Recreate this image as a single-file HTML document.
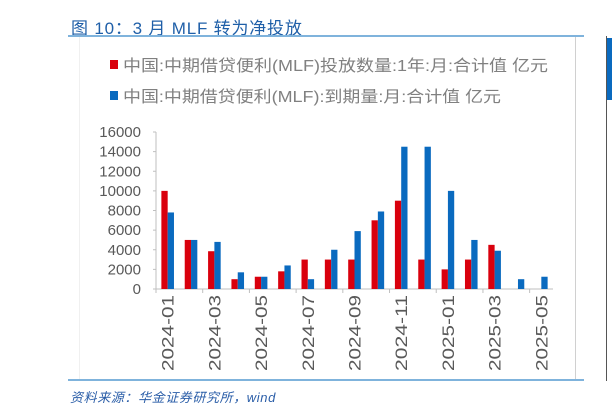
<!DOCTYPE html>
<html><head><meta charset="utf-8"><style>
body{margin:0;width:612px;height:417px;background:#fff;overflow:hidden;position:relative;font-family:"Liberation Sans","Noto Sans CJK SC",sans-serif}
.abs{position:absolute}
</style></head><body>
<div class="abs" style="left:71px;top:14px;font-size:17px;letter-spacing:0.8px;color:#1f5fa8;white-space:nowrap">图 10：3 月 MLF 转为净投放</div>
<div class="abs" style="left:68px;top:35px;width:516px;height:2px;background:#7fb3dc"></div>
<div class="abs" style="left:79px;top:37px;width:1px;height:343px;background:#f0f0f0"></div>
<div class="abs" style="left:575px;top:37px;width:1px;height:343px;background:#d0d0d0"></div>
<div class="abs" style="left:68px;top:379px;width:516px;height:2px;background:#7fb3dc"></div>
<div class="abs" style="left:70px;top:387px;font-size:13px;letter-spacing:0.6px;font-style:italic;color:#2b5ea8;white-space:nowrap">资料来源：华金证券研究所，wind</div>
<div class="abs" style="left:606px;top:36px;width:1px;height:345px;background:#555"></div>
<div class="abs" style="left:607px;top:38px;width:5px;height:62px;background:#0a6abf"></div>
<svg class="abs" style="left:0;top:0" width="612" height="417">
<g id="legend"></g><g id="axes"></g><g id="bars"></g>
</svg>
<script>
const categories=["2024-01","2024-02","2024-03","2024-04","2024-05","2024-06","2024-07","2024-08","2024-09","2024-10","2024-11","2024-12","2025-01","2025-02","2025-03","2025-04","2025-05"];
const issued=[10000,5000,3850,1000,1250,1800,3000,3000,3000,7000,9000,3000,2000,3000,4500,0,0];
const matured=[7800,5000,4800,1700,1250,2400,1000,4000,5900,7900,14500,14500,10000,5000,3900,1000,1250];
const yTicks=[0,2000,4000,6000,8000,10000,12000,14000,16000];
const seriesNames=["中国:中期借贷便利(MLF)投放数量:1年:月:合计值 亿元","中国:中期借贷便利(MLF):到期量:月:合计值 亿元"];
const colors=["#d9000d","#0a6abf"];
const NS="http://www.w3.org/2000/svg";
const x0=156,x1=553,y0=289,yTop=132,yMax=16000;
const cw=(x1-x0)/categories.length;
const ys=v=>y0-(v/yMax)*(y0-yTop);
const legendLens=[425,378];
function mk(t,a,p){const e=document.createElementNS(NS,t);for(const k in a)e.setAttribute(k,a[k]);p.appendChild(e);return e;}
const lg=document.getElementById('legend'),ax=document.getElementById('axes'),bg=document.getElementById('bars');
seriesNames.forEach((n,i)=>{
 const r=mk('rect',{x:110,y:60+i*31,width:8,height:9,fill:colors[i]},lg);
 
 
 const t=mk('text',{x:123,y:71+i*31,'font-size':16,fill:'#808080',textLength:legendLens[i],lengthAdjust:'spacingAndGlyphs'},lg);t.textContent=n;
 
 
});
const yl=mk('line',{x1:x0,y1:yTop,x2:x0,y2:y0,stroke:'#bfbfbf'},ax);


const xl=mk('line',{x1:x0,y1:y0,x2:x1,y2:y0,stroke:'#bfbfbf'},ax);


yTicks.forEach(v=>{
 mk('line',{x1:x0-3,y1:ys(v),x2:x0,y2:ys(v),stroke:'#bfbfbf'},ax);
 const t=mk('text',{x:141,y:ys(v)+5,'font-size':15,fill:'#595959','text-anchor':'end'},ax);t.textContent=v;
 
 
});
categories.forEach((c,i)=>{
 if(i%2===0){
  const tx=x0+i*cw;
  mk('line',{x1:tx,y1:y0,x2:tx,y2:y0+4,stroke:'#bfbfbf'},ax);
  const cx=x0+(i+0.5)*cw;
  const t=mk('text',{x:0,y:0,'font-size':17,fill:'#595959','text-anchor':'end',textLength:76,lengthAdjust:'spacingAndGlyphs',transform:`translate(${cx+6},${y0+6}) rotate(-90)`},ax);t.textContent=c;
  
  
 }
 const bw=6.3,cx=x0+(i+0.5)*cw;
 [issued[i],matured[i]].forEach((v,s)=>{
  const r=mk('rect',{x:cx-bw+s*bw,y:ys(v),width:bw,height:y0-ys(v),fill:colors[s]},bg);
  
  
 });
});
</script>
</body></html>
